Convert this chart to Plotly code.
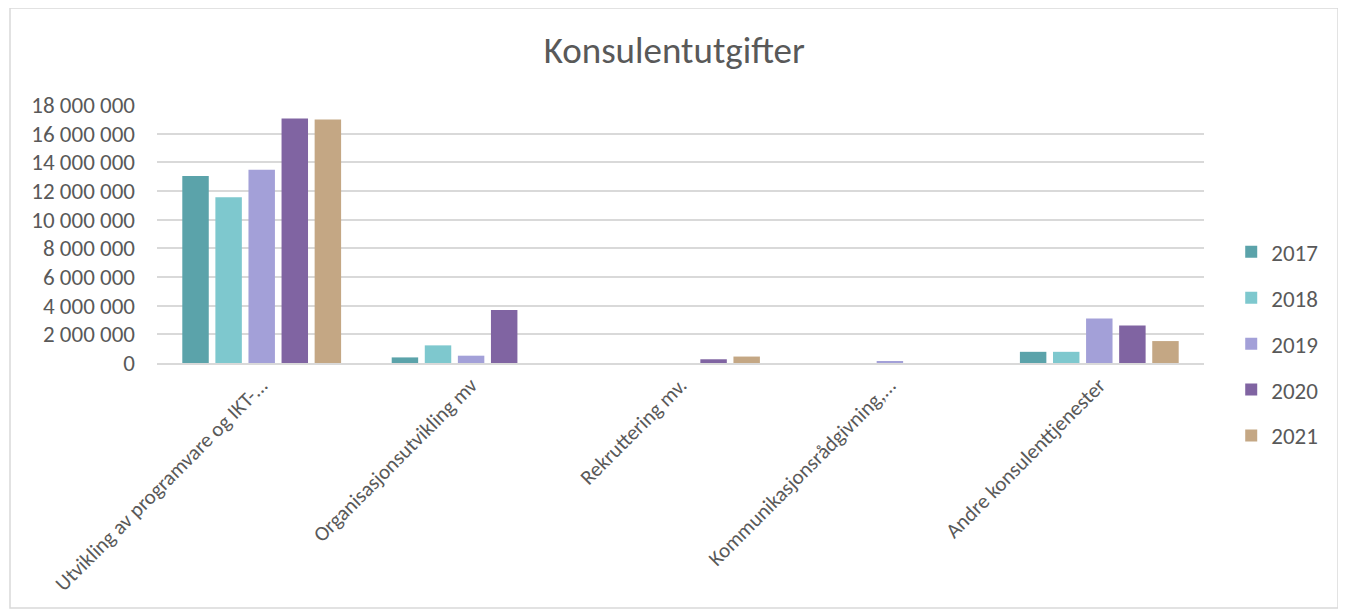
import plotly.graph_objects as go

# Categories and values
categories = [
    "Utvikling av programvare og IKT-...",
    "Organisasjonsutvikling mv",
    "Rekruttering mv.",
    "Kommunikasjonsrådgivning,...",
    "Andre konsulenttjenester",
]
years = ["2017", "2018", "2019", "2020", "2021"]

v2017 = [13050000, 390000, 0, 0, 780000]
v2018 = [11570000, 1230000, 0, 0, 780000]
v2019 = [13490000, 510000, 0, 140000, 3100000]
v2020 = [17050000, 3690000, 260000, 0, 2610000]
v2021 = [16980000, 0, 450000, 0, 1530000]

colors = ["#5ba3aa", "#7ec8ce", "#a3a0d8", "#8064a2", "#c4a784"]

fig = go.Figure()
for year, vals, col in zip(years, [v2017, v2018, v2019, v2020, v2021], colors):
    fig.add_trace(go.Bar(x=categories, y=vals, name=year, marker_color=col,
                         marker_line_width=0, legendgroup=year))

font_fam = "Calibri, Carlito, Lato, sans-serif"

fig.update_layout(
    width=1346, height=610,
    paper_bgcolor="white", plot_bgcolor="white",
    margin=dict(l=149, r=150, t=97, b=255, autoexpand=False),
    barmode="group", bargap=0.21, bargroupgap=0.2,
    separators=", ",
    font=dict(family=font_fam, color="#595959", size=21),
    title=dict(text="Konsulentutgifter", x=0.495, xanchor="center",
               y=0.931, yanchor="middle",
               font=dict(size=37, color="#595959", family=font_fam)),
    legend=dict(x=1.026, xanchor="left", y=0.074, yanchor="middle",
                font=dict(size=23, color="#595959"),
                tracegroupgap=13, itemsizing="constant", itemwidth=30,
                traceorder="grouped"),
    shapes=[dict(type="rect", xref="paper", yref="paper",
                 x0=-0.1404, x1=1.128, y0=-0.95, y1=1.376,
                 line=dict(color="#d9d9d9", width=1.5), layer="below")],
)

fig.update_yaxes(range=[0, 18000000], dtick=2000000, tickformat=",d",
                 gridcolor="#d9d9d9", gridwidth=1.5, zeroline=False,
                 showline=False, ticks="", ticklabelstandoff=21,
                 tickfont=dict(size=23), automargin=False)
fig.update_xaxes(tickangle=-45, showline=True, linecolor="#d9d9d9",
                 linewidth=1.5, ticks="", showgrid=False,
                 tickfont=dict(size=21), automargin=False)

fig.write_html("out.html")
